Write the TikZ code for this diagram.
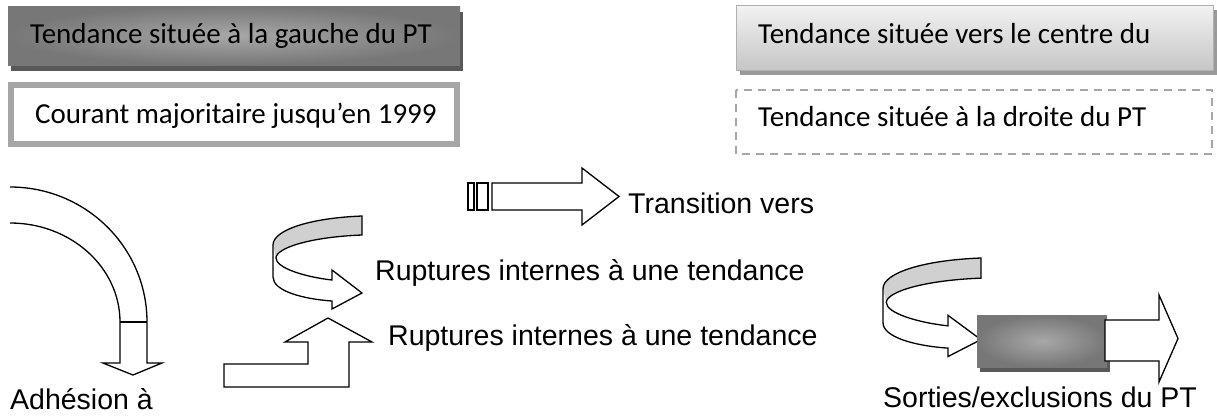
\documentclass[tikz,border=0pt]{standalone}
\usepackage{fontspec}
\setmainfont{Liberation Sans}
\newfontfamily\calfont{Carlito}
\definecolor{boxdark}{HTML}{777777}
\definecolor{boxlight}{HTML}{A8A8A8}
\definecolor{shadowdark}{HTML}{595959}
\definecolor{bordergray}{HTML}{A6A6A6}
\definecolor{toplight}{HTML}{F2F2F2}
\definecolor{topdark}{HTML}{C6C6C6}
\definecolor{thinborder}{HTML}{B0B0B0}
\definecolor{shadowlight}{HTML}{9A9A9A}
\definecolor{ribgray}{HTML}{D0D0D0}
\begin{document}
\begin{tikzpicture}[x=1pt,y=-1pt,
  ar/.style={font=\fontsize{28.5}{34}\selectfont, inner sep=0pt, anchor=base west},
  bx/.style={font=\calfont\fontsize{29}{35}\selectfont, inner sep=0pt, anchor=base west},
  outl/.style={draw=black, line width=1.3pt, line join=miter},
  shapew/.style={outl, fill=white}]
\useasboundingbox (0,0) rectangle (1217,418);

% ---- box 1 (dark gradient)
\fill[shadowdark] (11,12) rectangle (463,71);
\shade[inner color=boxlight, outer color=boxdark] (8,6) rectangle (460,65);
\node[bx] (b1) at (30,43) {Tendance située à la gauche du PT};

% ---- box 2 (thick gray border)
\draw[draw=bordergray, line width=6pt, fill=white] (11,85) rectangle (457,144);
\node[bx] (b2) at (35,123) {Courant majoritaire jusqu’en 1999};

% ---- box 3 (light gradient)
\fill[shadowlight] (740,10) rectangle (1217,75);
\shade[top color=toplight, bottom color=topdark, draw=thinborder, line width=1pt] (736,5) rectangle (1213,70);
\node[bx] (b3) at (758,43) {Tendance située vers le centre du};

% ---- box 4 (dashed)
\draw[draw=bordergray, line width=1.8pt, dash pattern=on 8pt off 6pt] (736,90) rectangle (1212,154);
\node[bx] (b4) at (758,126) {Tendance située à la droite du PT};

% ---- left curved arrow
\draw[outl] (10,187) .. controls (85.7,187) and (147,247.4) .. (147,322)
  -- (147,363) -- (162,363) -- (133,375) -- (103,363) -- (120,363) -- (120,322)
  .. controls (120,267.3) and (70.8,223) .. (10,223);
\draw[outl] (120,322) -- (147,322);
\node[ar] (t4) at (10,409) {Adhésion à};

% ---- transition arrow
\draw[outl] (468,183) rectangle (474,210);
\draw[outl] (477,183) rectangle (488,210);
\draw[shapew] (492,183) -- (582,183) -- (582,168) -- (619,196.5) -- (582,225) -- (582,210) -- (492,210) -- cycle;
\node[ar] (t1) at (628,213) {Transition vers};

% ---- ribbon arrows
\newcommand{\ribbonshape}{%
  \fill[ribgray] (89,0) .. controls (37,2) and (0,14) .. (0,29) -- (3,42) .. controls (3,32) and (37,21) .. (89,19) -- cycle;
  \draw[outl] (3,42) .. controls (3,32) and (37,21) .. (89,19) -- (89,0) .. controls (37,2) and (0,14) .. (0,29)
    -- (0,61) .. controls (0,75) and (30,83) .. (59,85) -- (59,93) -- (89,77) -- (59,54) -- (59,64)
    .. controls (32,61) and (3,52) .. (3,42);
}
\begin{scope}[shift={(273,216)}]
  \ribbonshape
\end{scope}
\begin{scope}[shift={(883,258)}, xscale=1.1, yscale=1.06]
  \ribbonshape
\end{scope}

% ---- step arrow
\draw[shapew] (224,364) -- (308,364) -- (308,342) -- (285,342) -- (328,318) -- (372,342)
  -- (349,342) -- (349,387) -- (224,387) -- cycle;

\node[ar] (t2) at (375,280) {Ruptures internes à une tendance};
\node[ar] (t3) at (388,345.5) {Ruptures internes à une tendance};

% ---- gray box and right arrow
\fill[shadowdark] (980,320) rectangle (1110,372);
\shade[inner color=boxlight, outer color=boxdark] (977,315) rectangle (1107,367);
\draw[shapew] (1105,320) -- (1159,320) -- (1159,295) -- (1178,338.5) -- (1159,382) -- (1159,361) -- (1105,361) -- cycle;
\node[ar] (t5) at (883,407) {Sorties/exclusions du PT};
\end{tikzpicture}
\end{document}
